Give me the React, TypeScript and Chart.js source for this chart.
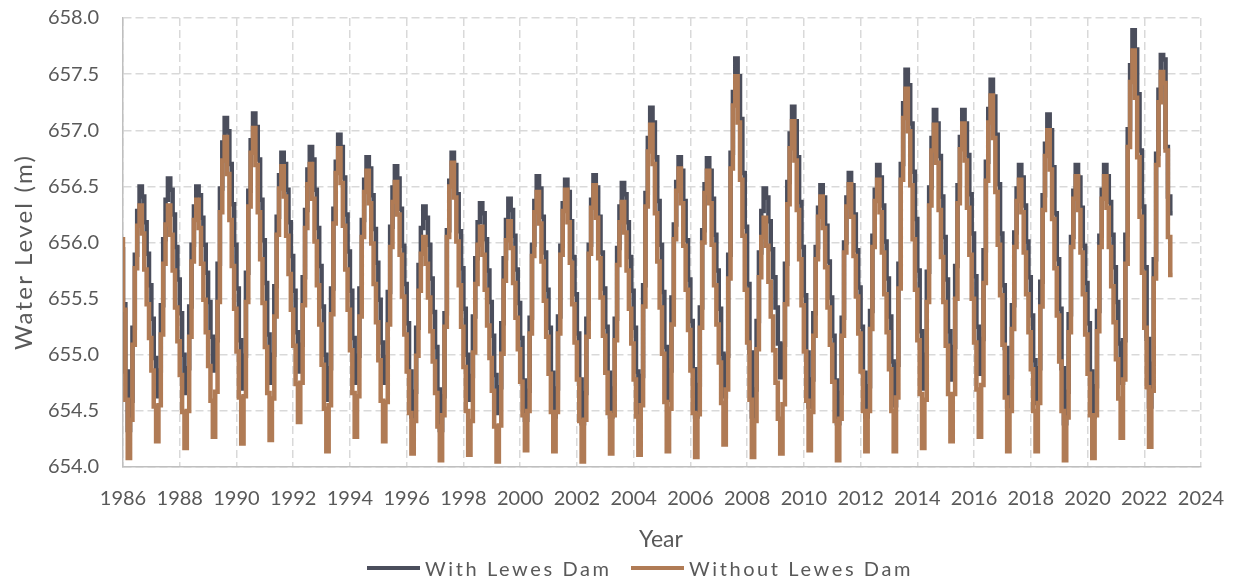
import React, { useEffect, useRef } from "react";
import { Chart, registerables } from "chart.js";

Chart.register(...registerables);

// Monthly values, one row per year (Jan..Dec), first year 1986, last entry = Jan 2023
const startYear = 1986;
const seriesNames = ["With Lewes Dam", "Without Lewes Dam"];

const withDam: number[] = [
  655.96, 655.45, 654.85, 654.33, 654.59, 655.24, 655.89, 656.28, 656.50, 656.41, 656.18, 655.90,
  655.62, 655.32, 654.97, 654.63, 654.86, 655.44, 656.03, 656.38, 656.57, 656.47, 656.25, 655.96,
  655.67, 655.37, 655.00, 654.66, 654.88, 655.43, 655.98, 656.32, 656.50, 656.42, 656.22, 655.98,
  655.73, 655.47, 655.16, 654.86, 655.13, 655.81, 656.48, 656.89, 657.11, 656.99, 656.70, 656.34,
  655.98, 655.59, 655.13, 654.70, 654.99, 655.73, 656.46, 656.91, 657.15, 657.03, 656.74, 656.38,
  656.02, 655.64, 655.18, 654.75, 655.00, 655.61, 656.23, 656.60, 656.80, 656.70, 656.47, 656.18,
  655.88, 655.57, 655.20, 654.85, 655.09, 655.69, 656.29, 656.65, 656.85, 656.74, 656.47, 656.13,
  655.79, 655.43, 655.00, 654.60, 654.88, 655.59, 656.30, 656.72, 656.96, 656.85, 656.58, 656.25,
  655.92, 655.57, 655.15, 654.75, 654.99, 655.59, 656.20, 656.56, 656.76, 656.66, 656.42, 656.12,
  655.82, 655.49, 655.11, 654.75, 654.98, 655.56, 656.14, 656.49, 656.68, 656.57, 656.30, 655.97,
  655.63, 655.28, 654.85, 654.45, 654.67, 655.24, 655.80, 656.13, 656.32, 656.22, 655.98, 655.68,
  655.38, 655.07, 654.69, 654.33, 654.63, 655.37, 656.11, 656.55, 656.80, 656.69, 656.43, 656.10,
  655.77, 655.41, 655.00, 654.60, 654.81, 655.34, 655.86, 656.18, 656.35, 656.26, 656.03, 655.75,
  655.47, 655.17, 654.82, 654.48, 654.71, 655.28, 655.86, 656.20, 656.39, 656.29, 656.06, 655.76,
  655.46, 655.15, 654.77, 654.42, 654.68, 655.33, 655.98, 656.37, 656.59, 656.48, 656.23, 655.91,
  655.58, 655.24, 654.84, 654.45, 654.70, 655.34, 655.97, 656.35, 656.56, 656.45, 656.19, 655.87,
  655.54, 655.19, 654.78, 654.39, 654.66, 655.32, 655.98, 656.38, 656.60, 656.49, 656.23, 655.91,
  655.59, 655.25, 654.84, 654.45, 654.70, 655.32, 655.95, 656.32, 656.53, 656.43, 656.18, 655.87,
  655.57, 655.24, 654.85, 654.48, 654.81, 655.62, 656.44, 656.93, 657.20, 657.07, 656.76, 656.37,
  655.98, 655.56, 655.07, 654.60, 654.86, 655.51, 656.16, 656.54, 656.76, 656.64, 656.37, 656.02,
  655.67, 655.30, 654.87, 654.45, 654.73, 655.42, 656.11, 656.52, 656.75, 656.64, 656.39, 656.07,
  655.75, 655.41, 655.01, 654.63, 654.99, 655.89, 656.80, 657.34, 657.64, 657.48, 657.10, 656.62,
  656.14, 655.63, 655.02, 654.45, 654.69, 655.30, 655.91, 656.28, 656.48, 656.40, 656.19, 655.94,
  655.69, 655.42, 655.10, 654.80, 655.09, 655.81, 656.54, 656.97, 657.21, 657.08, 656.76, 656.36,
  655.96, 655.53, 655.02, 654.54, 654.78, 655.37, 655.96, 656.31, 656.51, 656.40, 656.15, 655.83,
  655.51, 655.17, 654.77, 654.39, 654.66, 655.33, 656.00, 656.40, 656.62, 656.51, 656.25, 655.93,
  655.60, 655.25, 654.84, 654.45, 654.72, 655.39, 656.06, 656.47, 656.69, 656.58, 656.33, 656.01,
  655.68, 655.34, 654.94, 654.55, 654.91, 655.81, 656.70, 657.24, 657.54, 657.40, 657.06, 656.63,
  656.21, 655.75, 655.21, 654.70, 655.00, 655.74, 656.49, 656.93, 657.18, 657.06, 656.77, 656.41,
  656.05, 655.67, 655.21, 654.78, 655.07, 655.79, 656.51, 656.94, 657.18, 657.06, 656.78, 656.43,
  656.08, 655.70, 655.25, 654.83, 655.14, 655.93, 656.72, 657.19, 657.45, 657.30, 656.96, 656.52,
  656.08, 655.62, 655.06, 654.54, 654.80, 655.44, 656.09, 656.48, 656.69, 656.58, 656.33, 656.01,
  655.69, 655.35, 654.95, 654.57, 654.88, 655.65, 656.42, 656.88, 657.14, 657.00, 656.67, 656.26,
  655.85, 655.41, 654.88, 654.39, 654.67, 655.36, 656.05, 656.46, 656.69, 656.58, 656.31, 655.97,
  655.64, 655.28, 654.85, 654.45, 654.72, 655.39, 656.06, 656.47, 656.69, 656.59, 656.36, 656.07,
  655.78, 655.47, 655.10, 654.75, 655.13, 656.07, 657.01, 657.58, 657.89, 657.72, 657.32, 656.82,
  656.32, 655.78, 655.14, 654.54, 654.92, 655.85, 656.79, 657.36, 657.67, 657.63, 656.85, 656.41,
  656.26,
];

const withoutDam: number[] = [
  656.05, 655.40, 654.60, 654.08, 654.42, 655.09, 655.77, 656.15, 656.33, 656.08, 655.76, 655.45,
  655.15, 654.86, 654.54, 654.23, 654.55, 655.18, 655.81, 656.16, 656.33, 656.07, 655.75, 655.42,
  655.12, 654.82, 654.49, 654.17, 654.50, 655.16, 655.83, 656.20, 656.38, 656.13, 655.81, 655.49,
  655.20, 654.90, 654.59, 654.27, 654.67, 655.47, 656.27, 656.73, 656.94, 656.61, 656.20, 655.79,
  655.41, 655.03, 654.62, 654.21, 654.63, 655.47, 656.32, 656.80, 657.02, 656.69, 656.27, 655.85,
  655.46, 655.07, 654.66, 654.24, 654.61, 655.34, 656.07, 656.48, 656.68, 656.41, 656.06, 655.72,
  655.40, 655.08, 654.74, 654.40, 654.75, 655.44, 656.13, 656.52, 656.70, 656.39, 656.01, 655.62,
  655.27, 654.91, 654.52, 654.14, 654.55, 655.36, 656.17, 656.62, 656.84, 656.53, 656.15, 655.76,
  655.40, 655.04, 654.66, 654.27, 654.63, 655.34, 656.05, 656.45, 656.64, 656.35, 655.99, 655.63,
  655.29, 654.95, 654.59, 654.23, 654.58, 655.27, 655.96, 656.36, 656.54, 656.25, 655.89, 655.52,
  655.18, 654.85, 654.48, 654.12, 654.41, 654.99, 655.57, 655.90, 656.05, 655.81, 655.51, 655.21,
  654.94, 654.66, 654.36, 654.06, 654.46, 655.25, 656.05, 656.50, 656.71, 656.40, 656.01, 655.62,
  655.25, 654.89, 654.50, 654.11, 654.41, 655.02, 655.63, 655.98, 656.14, 655.89, 655.58, 655.26,
  654.97, 654.68, 654.36, 654.05, 654.37, 655.01, 655.66, 656.02, 656.19, 655.95, 655.64, 655.33,
  655.05, 654.76, 654.46, 654.15, 654.50, 655.19, 655.88, 656.27, 656.45, 656.17, 655.83, 655.48,
  655.16, 654.83, 654.49, 654.14, 654.49, 655.19, 655.89, 656.28, 656.47, 656.18, 655.82, 655.45,
  655.11, 654.78, 654.41, 654.05, 654.42, 655.16, 655.90, 656.31, 656.51, 656.22, 655.86, 655.51,
  655.17, 654.84, 654.48, 654.12, 654.46, 655.13, 655.80, 656.18, 656.36, 656.09, 655.75, 655.41,
  655.10, 654.78, 654.45, 654.11, 654.55, 655.43, 656.32, 656.81, 657.05, 656.70, 656.26, 655.83,
  655.42, 655.01, 654.58, 654.14, 654.52, 655.27, 656.03, 656.46, 656.66, 656.35, 655.97, 655.58,
  655.22, 654.86, 654.48, 654.09, 654.47, 655.24, 656.00, 656.44, 656.64, 656.35, 655.98, 655.62,
  655.27, 654.93, 654.57, 654.20, 654.69, 655.68, 656.66, 657.22, 657.48, 657.07, 656.56, 656.06,
  655.58, 655.11, 654.60, 654.09, 654.41, 655.05, 655.69, 656.05, 656.22, 655.97, 655.65, 655.34,
  655.04, 654.75, 654.43, 654.12, 654.56, 655.45, 656.34, 656.84, 657.08, 656.73, 656.29, 655.85,
  655.44, 655.03, 654.59, 654.15, 654.49, 655.17, 655.85, 656.23, 656.41, 656.13, 655.78, 655.42,
  655.09, 654.76, 654.41, 654.06, 654.43, 655.17, 655.91, 656.32, 656.52, 656.23, 655.88, 655.52,
  655.19, 654.85, 654.50, 654.14, 654.50, 655.23, 655.96, 656.37, 656.56, 656.27, 655.91, 655.54,
  655.20, 654.87, 654.50, 654.14, 654.62, 655.59, 656.56, 657.11, 657.37, 656.99, 656.51, 656.03,
  655.58, 655.13, 654.65, 654.17, 654.60, 655.47, 656.33, 656.82, 657.05, 656.71, 656.29, 655.87,
  655.47, 655.08, 654.65, 654.23, 654.65, 655.50, 656.35, 656.83, 657.06, 656.73, 656.31, 655.89,
  655.50, 655.11, 654.69, 654.27, 654.73, 655.64, 656.55, 657.07, 657.31, 656.93, 656.45, 655.98,
  655.53, 655.09, 654.62, 654.14, 654.50, 655.23, 655.96, 656.37, 656.56, 656.27, 655.91, 655.54,
  655.20, 654.87, 654.50, 654.14, 654.57, 655.43, 656.29, 656.77, 657.00, 656.65, 656.21, 655.77,
  655.35, 654.94, 654.50, 654.06, 654.44, 655.20, 655.96, 656.39, 656.59, 656.29, 655.91, 655.54,
  655.18, 654.83, 654.46, 654.08, 654.46, 655.21, 655.96, 656.39, 656.59, 656.31, 655.96, 655.61,
  655.29, 654.96, 654.61, 654.26, 654.78, 655.81, 656.85, 657.43, 657.71, 657.29, 656.76, 656.23,
  655.73, 655.24, 654.71, 654.18, 654.68, 655.68, 656.69, 657.25, 657.52, 657.42, 656.82, 656.05,
  655.71,
];

const xMin = 1986;
const xMax = 2024;
const xStep = 2;
const yMin = 654;
const yMax = 658;
const yStep = 0.5;

const darkColor = "#4b4e5c";
const orangeColor = "#b07b55";
const textColor = "#595959";
const fontFamily = "Lato, 'Open Sans', sans-serif";

function toPoints(values: number[]) {
  return values.map((v, i) => ({ x: startYear + i / 12, y: v }));
}

export default function App() {
  const canvasRef = useRef<HTMLCanvasElement | null>(null);

  useEffect(() => {
    const canvas = canvasRef.current;
    if (!canvas) return;
    const chart = new Chart(canvas, {
      type: "line",
      data: {
        datasets: [
          {
            label: seriesNames[1],
            data: toPoints(withoutDam),
            borderColor: orangeColor,
            backgroundColor: orangeColor,
            borderWidth: 4.5,
            pointRadius: 0,
            stepped: "after",
            fill: false,
          },
          {
            label: seriesNames[0],
            data: toPoints(withDam),
            borderColor: darkColor,
            backgroundColor: darkColor,
            borderWidth: 4.5,
            pointRadius: 0,
            stepped: "after",
            fill: false,
          },
        ],
      },
      options: {
        responsive: false,
        animation: false,
        events: [],
        layout: { padding: { left: 0, right: 34, top: 18, bottom: 0 } },
        plugins: {
          legend: { display: false },
          tooltip: { enabled: false },
          title: { display: false },
        },
        scales: {
          x: {
            type: "linear",
            min: xMin,
            max: xMax,
            grid: {
              color: "#d9d9d9",
              lineWidth: 1.5,
              drawTicks: false,
            },
            border: { display: true, color: "#bfbfbf", width: 1.5, dash: [8, 4] },
            ticks: {
              stepSize: xStep,
              color: textColor,
              font: { family: fontFamily, size: 20 },
              padding: 20,
              maxRotation: 0,
              autoSkip: false,
              callback: (v: any) => String(v),
            },
            afterFit: (scale: any) => {
              scale.height = 115;
              scale.paddingLeft = 0;
              scale.paddingRight = 0;
            },
          },
          y: {
            min: yMin,
            max: yMax,
            grid: {
              color: "#d9d9d9",
              lineWidth: 1.5,
              drawTicks: false,
            },
            border: { display: true, color: "#bfbfbf", width: 1.5, dash: [8, 4] },
            ticks: {
              stepSize: yStep,
              color: textColor,
              font: { family: fontFamily, size: 20 },
              padding: 24,
              callback: (v: any) => Number(v).toFixed(1),
            },
            afterFit: (scale: any) => {
              scale.width = 123;
              scale.paddingTop = 0;
              scale.paddingBottom = 0;
            },
          },
        },
      },
    } as any);
    return () => chart.destroy();
  }, []);

  const legendText: React.CSSProperties = {
    fontFamily,
    fontSize: 20,
    color: textColor,
    letterSpacing: "2.6px",
    marginLeft: 5,
    whiteSpace: "nowrap",
  };

  return (
    <div
      style={{
        position: "fixed",
        left: 0,
        top: 0,
        width: 1235,
        height: 582,
        background: "#ffffff",
        overflow: "hidden",
      }}
    >
      <canvas ref={canvasRef} width={1235} height={582} style={{ display: "block" }} />
      <div
        style={{
          position: "absolute",
          left: -97,
          top: 237,
          width: 240,
          height: 30,
          lineHeight: "30px",
          textAlign: "center",
          transform: "rotate(-90deg)",
          fontFamily,
          fontSize: 24,
          letterSpacing: "2.2px",
          color: textColor,
          whiteSpace: "nowrap",
        }}
      >
        Water Level (m)
      </div>
      <div
        style={{
          position: "absolute",
          left: 561,
          top: 523,
          width: 200,
          height: 30,
          lineHeight: "30px",
          textAlign: "center",
          fontFamily,
          fontSize: 23,
          color: textColor,
        }}
      >
        Year
      </div>
      <div
        style={{
          position: "absolute",
          left: 367,
          top: 555,
          height: 26,
          display: "flex",
          alignItems: "center",
        }}
      >
        <span style={{ display: "inline-block", width: 53, height: 4, background: darkColor }} />
        <span style={legendText}>{seriesNames[0]}</span>
      </div>
      <div
        style={{
          position: "absolute",
          left: 631,
          top: 555,
          height: 26,
          display: "flex",
          alignItems: "center",
        }}
      >
        <span style={{ display: "inline-block", width: 53, height: 4, background: orangeColor }} />
        <span style={legendText}>{seriesNames[1]}</span>
      </div>
    </div>
  );
}
